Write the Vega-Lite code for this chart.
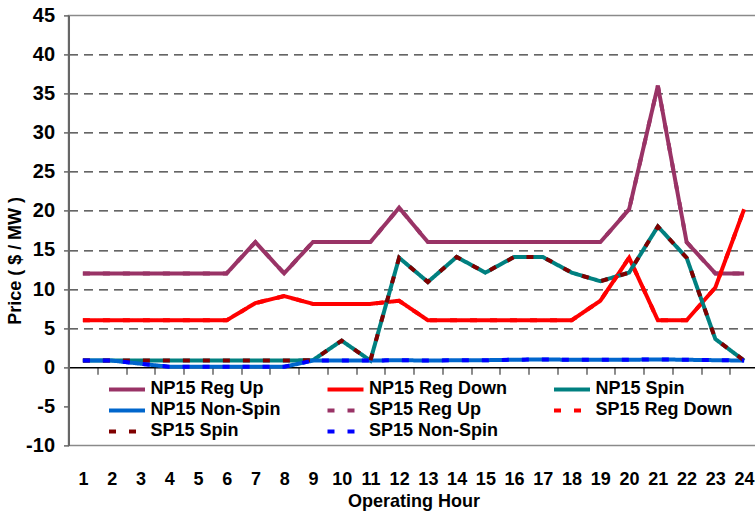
{
  "$schema": "https://vega.github.io/schema/vega-lite/v6.json",
  "width": 690,
  "height": 430,
  "autosize": {"type": "none"},
  "padding": {"left": 68.5, "top": 15.4, "right": 0, "bottom": 71},
  "background": "white",
  "config": {"font": "Liberation Sans", "view": {"stroke": "#8a8a8a", "strokeWidth": 1.5}},
  "data": {"values": [
    {"hour": 1, "NP15 Reg Up": 12, "NP15 Reg Down": 6, "NP15 Spin": 0.85, "NP15 Non-Spin": 0.85, "SP15 Reg Up": 12, "SP15 Reg Down": 6, "SP15 Spin": 0.85, "SP15 Non-Spin": 0.85},
    {"hour": 2, "NP15 Reg Up": 12, "NP15 Reg Down": 6, "NP15 Spin": 0.85, "NP15 Non-Spin": 0.85, "SP15 Reg Up": 12, "SP15 Reg Down": 6, "SP15 Spin": 0.85, "SP15 Non-Spin": 0.85},
    {"hour": 3, "NP15 Reg Up": 12, "NP15 Reg Down": 6, "NP15 Spin": 0.85, "NP15 Non-Spin": 0.45, "SP15 Reg Up": 12, "SP15 Reg Down": 6, "SP15 Spin": 0.85, "SP15 Non-Spin": 0.45},
    {"hour": 4, "NP15 Reg Up": 12, "NP15 Reg Down": 6, "NP15 Spin": 0.85, "NP15 Non-Spin": 0.05, "SP15 Reg Up": 12, "SP15 Reg Down": 6, "SP15 Spin": 0.85, "SP15 Non-Spin": 0.05},
    {"hour": 5, "NP15 Reg Up": 12, "NP15 Reg Down": 6, "NP15 Spin": 0.85, "NP15 Non-Spin": 0.05, "SP15 Reg Up": 12, "SP15 Reg Down": 6, "SP15 Spin": 0.85, "SP15 Non-Spin": 0.05},
    {"hour": 6, "NP15 Reg Up": 12, "NP15 Reg Down": 6, "NP15 Spin": 0.85, "NP15 Non-Spin": 0.05, "SP15 Reg Up": 12, "SP15 Reg Down": 6, "SP15 Spin": 0.85, "SP15 Non-Spin": 0.05},
    {"hour": 7, "NP15 Reg Up": 16, "NP15 Reg Down": 8.2, "NP15 Spin": 0.85, "NP15 Non-Spin": 0.05, "SP15 Reg Up": 16, "SP15 Reg Down": 8.2, "SP15 Spin": 0.85, "SP15 Non-Spin": 0.05},
    {"hour": 8, "NP15 Reg Up": 12, "NP15 Reg Down": 9.1, "NP15 Spin": 0.85, "NP15 Non-Spin": 0.05, "SP15 Reg Up": 12, "SP15 Reg Down": 9.1, "SP15 Spin": 0.85, "SP15 Non-Spin": 0.05},
    {"hour": 9, "NP15 Reg Up": 16, "NP15 Reg Down": 8.1, "NP15 Spin": 0.9, "NP15 Non-Spin": 0.85, "SP15 Reg Up": 16, "SP15 Reg Down": 8.1, "SP15 Spin": 0.9, "SP15 Non-Spin": 0.85},
    {"hour": 10, "NP15 Reg Up": 16, "NP15 Reg Down": 8.1, "NP15 Spin": 3.4, "NP15 Non-Spin": 0.85, "SP15 Reg Up": 16, "SP15 Reg Down": 8.1, "SP15 Spin": 3.4, "SP15 Non-Spin": 0.85},
    {"hour": 11, "NP15 Reg Up": 16, "NP15 Reg Down": 8.1, "NP15 Spin": 0.85, "NP15 Non-Spin": 0.85, "SP15 Reg Up": 16, "SP15 Reg Down": 8.1, "SP15 Spin": 0.85, "SP15 Non-Spin": 0.85},
    {"hour": 12, "NP15 Reg Up": 20.4, "NP15 Reg Down": 8.5, "NP15 Spin": 14, "NP15 Non-Spin": 0.9, "SP15 Reg Up": 20.4, "SP15 Reg Down": 8.5, "SP15 Spin": 14, "SP15 Non-Spin": 0.9},
    {"hour": 13, "NP15 Reg Up": 16, "NP15 Reg Down": 6, "NP15 Spin": 10.9, "NP15 Non-Spin": 0.85, "SP15 Reg Up": 16, "SP15 Reg Down": 6, "SP15 Spin": 10.9, "SP15 Non-Spin": 0.85},
    {"hour": 14, "NP15 Reg Up": 16, "NP15 Reg Down": 6, "NP15 Spin": 14.1, "NP15 Non-Spin": 0.9, "SP15 Reg Up": 16, "SP15 Reg Down": 6, "SP15 Spin": 14.1, "SP15 Non-Spin": 0.9},
    {"hour": 15, "NP15 Reg Up": 16, "NP15 Reg Down": 6, "NP15 Spin": 12.1, "NP15 Non-Spin": 0.9, "SP15 Reg Up": 16, "SP15 Reg Down": 6, "SP15 Spin": 12.1, "SP15 Non-Spin": 0.9},
    {"hour": 16, "NP15 Reg Up": 16, "NP15 Reg Down": 6, "NP15 Spin": 14.1, "NP15 Non-Spin": 0.95, "SP15 Reg Up": 16, "SP15 Reg Down": 6, "SP15 Spin": 14.1, "SP15 Non-Spin": 0.95},
    {"hour": 17, "NP15 Reg Up": 16, "NP15 Reg Down": 6, "NP15 Spin": 14.1, "NP15 Non-Spin": 1.0, "SP15 Reg Up": 16, "SP15 Reg Down": 6, "SP15 Spin": 14.1, "SP15 Non-Spin": 1.0},
    {"hour": 18, "NP15 Reg Up": 16, "NP15 Reg Down": 6, "NP15 Spin": 12.1, "NP15 Non-Spin": 0.95, "SP15 Reg Up": 16, "SP15 Reg Down": 6, "SP15 Spin": 12.1, "SP15 Non-Spin": 0.95},
    {"hour": 19, "NP15 Reg Up": 16, "NP15 Reg Down": 8.5, "NP15 Spin": 11, "NP15 Non-Spin": 0.95, "SP15 Reg Up": 16, "SP15 Reg Down": 8.5, "SP15 Spin": 11, "SP15 Non-Spin": 0.95},
    {"hour": 20, "NP15 Reg Up": 20.2, "NP15 Reg Down": 14, "NP15 Spin": 12.1, "NP15 Non-Spin": 0.95, "SP15 Reg Up": 20.2, "SP15 Reg Down": 14, "SP15 Spin": 12.1, "SP15 Non-Spin": 0.95},
    {"hour": 21, "NP15 Reg Up": 36, "NP15 Reg Down": 6, "NP15 Spin": 18, "NP15 Non-Spin": 1.0, "SP15 Reg Up": 36, "SP15 Reg Down": 6, "SP15 Spin": 18, "SP15 Non-Spin": 1.0},
    {"hour": 22, "NP15 Reg Up": 16, "NP15 Reg Down": 6, "NP15 Spin": 14, "NP15 Non-Spin": 0.95, "SP15 Reg Up": 16, "SP15 Reg Down": 6, "SP15 Spin": 14, "SP15 Non-Spin": 0.95},
    {"hour": 23, "NP15 Reg Up": 12, "NP15 Reg Down": 10.2, "NP15 Spin": 3.6, "NP15 Non-Spin": 0.9, "SP15 Reg Up": 12, "SP15 Reg Down": 10.2, "SP15 Spin": 3.6, "SP15 Non-Spin": 0.9},
    {"hour": 24, "NP15 Reg Up": 12, "NP15 Reg Down": 20.2, "NP15 Spin": 0.85, "NP15 Non-Spin": 0.85, "SP15 Reg Up": 12, "SP15 Reg Down": 20.2, "SP15 Spin": 0.85, "SP15 Non-Spin": 0.85}
  ]},
  "transform": [
    {"fold": ["NP15 Reg Up", "NP15 Reg Down", "NP15 Spin", "NP15 Non-Spin", "SP15 Reg Up", "SP15 Reg Down", "SP15 Spin", "SP15 Non-Spin"], "as": ["series", "value"]}
  ],
  "encoding": {
    "x": {
      "field": "hour", "type": "ordinal", "bandPosition": 0.5,
      "scale": {"type": "band", "paddingInner": 0, "paddingOuter": 0},
      "axis": {
        "title": "Operating Hour", "labelAngle": 0, "offset": -78.2,
        "domainColor": "black", "domainWidth": 1.5,
        "tickBand": "extent", "tickColor": "#666666", "tickSize": 7, "tickWidth": 1.5,
        "labelFontSize": 18, "labelFontWeight": "bold", "labelColor": "black", "labelPadding": 96,
        "titleFontSize": 18, "titleFontWeight": "bold", "titleColor": "black",
        "titleY": 139, "titleBaseline": "alphabetic", "grid": false
      }
    },
    "y": {
      "field": "value", "type": "quantitative",
      "scale": {"domain": [-10, 45], "nice": false, "zero": false},
      "axis": {
        "title": "Price ( $ / MW )",
        "values": [-10, -5, 0, 5, 10, 15, 20, 25, 30, 35, 40, 45],
        "labelExpr": "datum.value + ''",
        "domainColor": "#666666", "domainWidth": 2,
        "tickColor": "#666666", "tickSize": 5, "tickWidth": 1.5,
        "labelFontSize": 20, "labelFontWeight": "bold", "labelColor": "black", "labelPadding": 9,
        "grid": true, "gridColor": "black", "gridDash": [9, 6], "gridWidth": 1,
        "gridOpacity": {"condition": {"test": "datum.value <= 0 || datum.value >= 45", "value": 0}, "value": 1},
        "titleFontSize": 18, "titleFontWeight": "bold", "titleColor": "black",
        "titleAngle": 270, "titleBaseline": "alphabetic", "titleAlign": "center", "titleX": -48, "titleY": 245
      }
    },
    "color": {
      "field": "series", "type": "nominal",
      "scale": {
        "domain": ["NP15 Reg Up", "NP15 Reg Down", "NP15 Spin", "NP15 Non-Spin", "SP15 Reg Up", "SP15 Reg Down", "SP15 Spin", "SP15 Non-Spin"],
        "range": ["#993366", "#FF0000", "#008080", "#0066CC", "#993366", "#FF0000", "#800000", "#0000FF"]
      },
      "legend": {
        "title": null, "orient": "none", "direction": "horizontal", "legendX": 36.5, "legendY": 362, "columns": 3, "columnPadding": 38.5, "rowPadding": 0,
        "symbolType": "M-0.8,0H2.8", "symbolSize": 400, "symbolStrokeWidth": 4,
        "labelFontSize": 18, "labelFontWeight": "bold", "labelColor": "black", "labelOffset": 21.5, "labelLimit": 300, "padding": 0
      }
    },
    "strokeDash": {
      "field": "series", "type": "nominal",
      "scale": {
        "domain": ["NP15 Reg Up", "NP15 Reg Down", "NP15 Spin", "NP15 Non-Spin", "SP15 Reg Up", "SP15 Reg Down", "SP15 Spin", "SP15 Non-Spin"],
        "range": [[1, 0], [1, 0], [1, 0], [1, 0], [7, 13], [7, 13], [7, 13], [7, 13]]
      },
      "legend": {
        "title": null, "orient": "none", "direction": "horizontal", "legendX": 36.5, "legendY": 362, "columns": 3, "columnPadding": 38.5, "rowPadding": 0,
        "symbolType": "M-0.8,0H2.8", "symbolSize": 400, "symbolStrokeWidth": 4,
        "labelFontSize": 18, "labelFontWeight": "bold", "labelColor": "black", "labelOffset": 21.5, "labelLimit": 300, "padding": 0
      }
    }
  },
  "layer": [
    {"transform": [{"filter": "indexof(datum.series, 'NP15') === 0"}], "mark": {"type": "line", "strokeWidth": 4}},
    {"transform": [{"filter": "indexof(datum.series, 'SP15') === 0"}], "mark": {"type": "line", "strokeWidth": 4}}
  ]
}
